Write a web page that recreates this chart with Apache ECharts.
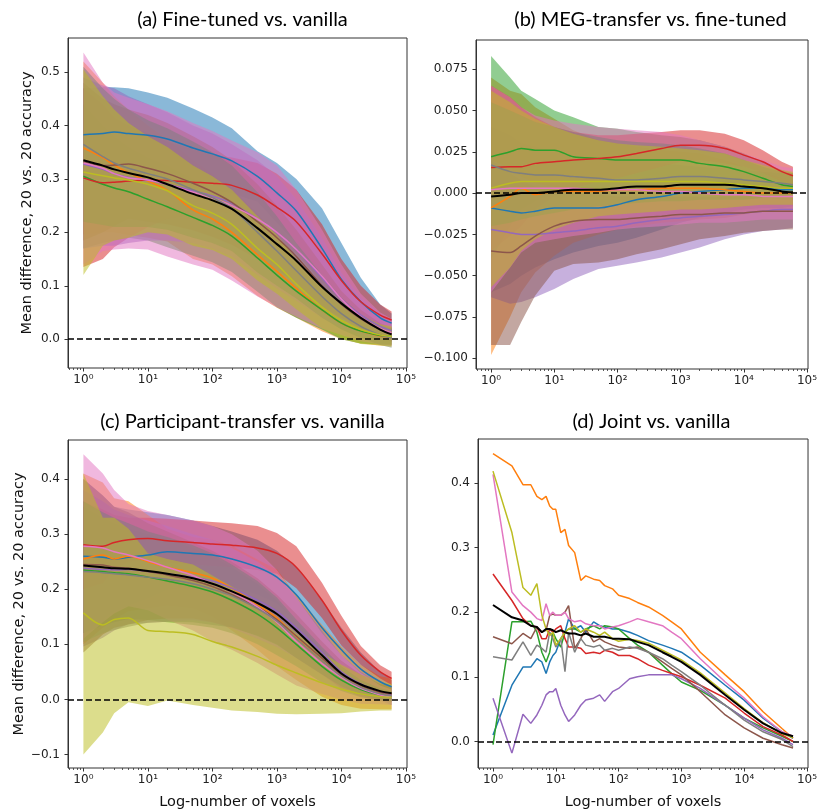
<!DOCTYPE html>
<html><head><meta charset="utf-8">
<script src="https://cdn.jsdelivr.net/npm/echarts@6/dist/echarts.min.js"></script>
<style>html,body{margin:0;padding:0;background:#fff}#c{width:820px;height:811px}</style>
</head><body><div id="c"></div>
<script>
// ---------- x positions (number of voxels) ----------
const XS = [1,2,3,5,10,20,50,100,200,500,1000,2000,5000,10000,20000,40000,60000];
const XS_D = [1,2,3,4,5,6,7,8,9,10,12,14,16,20,25,30,40,50,60,80,100,150,200,300,500,700,1000,2000,5000,10000,20000,40000,60000];

// ---------- axis tick values ----------
const X_TICKS = [1,10,100,1000,10000,100000];
const Y_TICKS_A = [0.0,0.1,0.2,0.3,0.4,0.5];
const Y_TICKS_B = [-0.1,-0.075,-0.05,-0.025,0.0,0.025,0.05,0.075];
const Y_TICKS_C = [-0.1,0.0,0.1,0.2,0.3,0.4];
const Y_TICKS_D = [0.0,0.1,0.2,0.3,0.4];

// ---------- (a) Fine-tuned vs. vanilla ----------
const A_BLUE    = [0.383,0.385,0.388,0.385,0.382,0.375,0.358,0.347,0.334,0.305,0.274,0.24,0.17,0.112,0.07,0.04,0.03];
const A_BLUE_HI = [0.47,0.472,0.472,0.47,0.462,0.452,0.432,0.415,0.395,0.352,0.33,0.3,0.245,0.18,0.115,0.065,0.048];
const A_BLUE_LO = [0.296,0.298,0.304,0.3,0.302,0.298,0.284,0.279,0.273,0.258,0.218,0.18,0.095,0.044,0.025,0.015,0.012];
const A_ORANGE    = [0.358,0.34,0.326,0.312,0.296,0.279,0.242,0.225,0.2,0.158,0.127,0.095,0.055,0.03,0.015,0.006,0.004];
const A_ORANGE_HI = [0.52,0.48,0.455,0.43,0.4,0.375,0.335,0.31,0.282,0.235,0.195,0.15,0.095,0.06,0.038,0.024,0.02];
const A_ORANGE_LO = [0.196,0.2,0.2,0.195,0.19,0.183,0.15,0.14,0.118,0.081,0.059,0.04,0.015,0.0,-0.008,-0.012,-0.012];
const A_GREEN    = [0.305,0.29,0.283,0.276,0.262,0.248,0.228,0.213,0.193,0.152,0.12,0.09,0.055,0.03,0.015,0.007,0.005];
const A_GREEN_HI = [0.44,0.4,0.38,0.36,0.34,0.325,0.3,0.282,0.26,0.215,0.18,0.14,0.092,0.06,0.038,0.024,0.02];
const A_GREEN_LO = [0.17,0.18,0.185,0.19,0.185,0.172,0.156,0.144,0.126,0.089,0.06,0.04,0.018,0.0,-0.008,-0.01,-0.01];
const A_RED    = [0.302,0.293,0.294,0.296,0.298,0.297,0.294,0.292,0.288,0.27,0.247,0.22,0.16,0.11,0.07,0.045,0.036];
const A_RED_HI = [0.47,0.44,0.415,0.4,0.385,0.37,0.355,0.345,0.34,0.33,0.31,0.28,0.215,0.15,0.1,0.065,0.052];
const A_RED_LO = [0.135,0.15,0.172,0.19,0.21,0.225,0.233,0.239,0.236,0.21,0.184,0.16,0.105,0.07,0.04,0.025,0.02];
const A_PURPLE    = [0.328,0.318,0.31,0.303,0.298,0.29,0.278,0.268,0.254,0.225,0.2,0.168,0.115,0.075,0.045,0.024,0.016];
const A_PURPLE_HI = [0.49,0.475,0.47,0.455,0.44,0.425,0.4,0.385,0.365,0.335,0.305,0.262,0.19,0.125,0.078,0.048,0.036];
const A_PURPLE_LO = [0.17,0.175,0.175,0.18,0.185,0.185,0.18,0.17,0.155,0.12,0.095,0.072,0.04,0.022,0.01,0.0,-0.002];
const A_BROWN    = [0.332,0.325,0.326,0.328,0.32,0.31,0.292,0.276,0.256,0.22,0.19,0.155,0.1,0.065,0.038,0.018,0.01];
const A_BROWN_HI = [0.48,0.45,0.44,0.43,0.42,0.405,0.38,0.36,0.335,0.29,0.25,0.205,0.14,0.09,0.055,0.03,0.022];
const A_BROWN_LO = [0.185,0.2,0.212,0.226,0.22,0.215,0.204,0.192,0.177,0.15,0.13,0.105,0.06,0.04,0.02,0.005,-0.005];
const A_PINK    = [0.33,0.32,0.31,0.302,0.298,0.29,0.275,0.264,0.25,0.225,0.2,0.168,0.118,0.075,0.042,0.02,0.012];
const A_PINK_HI = [0.537,0.48,0.462,0.452,0.44,0.427,0.405,0.39,0.372,0.35,0.325,0.28,0.205,0.14,0.085,0.05,0.038];
const A_PINK_LO = [0.14,0.165,0.168,0.17,0.168,0.155,0.14,0.13,0.11,0.08,0.06,0.042,0.02,0.008,-0.004,-0.01,-0.012];
const A_GRAY    = [0.365,0.342,0.33,0.32,0.31,0.3,0.28,0.265,0.245,0.2,0.165,0.128,0.08,0.048,0.024,0.008,0.002];
const A_GRAY_HI = [0.51,0.47,0.45,0.43,0.41,0.395,0.37,0.35,0.325,0.275,0.23,0.18,0.12,0.078,0.046,0.027,0.02];
const A_GRAY_LO = [0.22,0.214,0.21,0.21,0.21,0.205,0.19,0.18,0.165,0.125,0.1,0.076,0.04,0.018,0.002,-0.011,-0.016];
const A_OLIVE    = [0.313,0.306,0.302,0.298,0.29,0.278,0.25,0.236,0.215,0.17,0.14,0.103,0.06,0.035,0.018,0.008,0.005];
const A_OLIVE_HI = [0.505,0.455,0.43,0.405,0.38,0.36,0.325,0.305,0.28,0.23,0.195,0.15,0.1,0.068,0.045,0.028,0.024];
const A_OLIVE_LO = [0.12,0.175,0.185,0.19,0.2,0.196,0.175,0.167,0.15,0.11,0.085,0.056,0.02,0.002,-0.009,-0.012,-0.014];
const A_MEAN = [0.335,0.325,0.318,0.311,0.303,0.29,0.272,0.26,0.244,0.208,0.178,0.147,0.098,0.067,0.04,0.018,0.009];

// ---------- (b) MEG-transfer vs. fine-tuned ----------
const B_BLUE    = [-0.009,-0.011,-0.012,-0.011,-0.009,-0.009,-0.009,-0.007,-0.004,-0.002,0.0,0.001,0.002,0.003,0.003,0.002,0.002];
const B_BLUE_HI = [0.04,0.035,0.03,0.028,0.025,0.022,0.02,0.019,0.019,0.018,0.017,0.016,0.015,0.014,0.013,0.012,0.012];
const B_BLUE_LO = [-0.06,-0.055,-0.05,-0.045,-0.04,-0.036,-0.032,-0.03,-0.027,-0.022,-0.018,-0.015,-0.012,-0.01,-0.009,-0.009,-0.008];
const B_ORANGE    = [-0.009,-0.002,0.003,-0.001,0.001,0.001,0.001,0.002,0.002,0.003,0.003,0.003,0.002,0.001,0.0,0.0,0.0];
const B_ORANGE_HI = [0.07,0.062,0.06,0.052,0.045,0.038,0.032,0.03,0.028,0.026,0.025,0.024,0.02,0.016,0.012,0.009,0.008];
const B_ORANGE_LO = [-0.098,-0.075,-0.06,-0.048,-0.038,-0.03,-0.025,-0.022,-0.02,-0.018,-0.017,-0.016,-0.015,-0.013,-0.011,-0.01,-0.01];
const B_GREEN    = [0.022,0.025,0.027,0.026,0.026,0.022,0.021,0.02,0.02,0.02,0.02,0.018,0.016,0.013,0.009,0.005,0.004];
const B_GREEN_HI = [0.083,0.07,0.062,0.057,0.05,0.046,0.04,0.039,0.037,0.035,0.034,0.032,0.028,0.024,0.019,0.014,0.012];
const B_GREEN_LO = [-0.04,-0.02,-0.01,-0.005,0.0,0.0,0.002,0.002,0.003,0.004,0.004,0.003,0.002,0.0,-0.002,-0.004,-0.004];
const B_RED    = [0.0155,0.016,0.016,0.018,0.019,0.02,0.021,0.022,0.024,0.027,0.029,0.029,0.027,0.023,0.019,0.013,0.0105];
const B_RED_HI = [0.065,0.058,0.052,0.046,0.04,0.037,0.035,0.035,0.036,0.037,0.038,0.038,0.036,0.032,0.026,0.019,0.016];
const B_RED_LO = [-0.035,-0.026,-0.02,-0.01,-0.002,0.003,0.007,0.009,0.012,0.016,0.019,0.02,0.018,0.016,0.012,0.007,0.004];
const B_PURPLE    = [-0.022,-0.024,-0.025,-0.025,-0.024,-0.023,-0.021,-0.02,-0.018,-0.016,-0.015,-0.014,-0.013,-0.012,-0.011,-0.01,-0.01];
const B_PURPLE_HI = [0.02,0.015,0.01,0.006,0.004,0.002,0.0,-0.001,-0.001,-0.002,-0.002,-0.002,-0.002,-0.002,-0.002,-0.001,-0.001];
const B_PURPLE_LO = [-0.063,-0.067,-0.066,-0.063,-0.058,-0.052,-0.046,-0.044,-0.042,-0.039,-0.036,-0.033,-0.028,-0.025,-0.023,-0.022,-0.021];
const B_BROWN    = [-0.035,-0.036,-0.032,-0.026,-0.02,-0.017,-0.016,-0.016,-0.015,-0.014,-0.013,-0.013,-0.012,-0.012,-0.011,-0.011,-0.011];
const B_BROWN_HI = [0.02,0.012,0.008,0.004,0.002,0.0,-0.001,-0.002,-0.002,-0.002,-0.002,-0.002,-0.002,-0.002,-0.001,0.0,0.0];
const B_BROWN_LO = [-0.092,-0.092,-0.078,-0.062,-0.047,-0.043,-0.042,-0.04,-0.037,-0.034,-0.031,-0.028,-0.026,-0.024,-0.023,-0.022,-0.022];
const B_PINK    = [0.002,0.003,0.003,0.003,0.003,0.003,0.002,0.002,0.002,0.001,0.001,0.0,-0.001,-0.001,-0.002,-0.002,-0.002];
const B_PINK_HI = [0.065,0.058,0.052,0.047,0.044,0.042,0.04,0.039,0.038,0.037,0.035,0.032,0.028,0.024,0.02,0.016,0.015];
const B_PINK_LO = [-0.06,-0.045,-0.036,-0.03,-0.028,-0.026,-0.024,-0.022,-0.021,-0.02,-0.019,-0.018,-0.018,-0.017,-0.016,-0.016,-0.016];
const B_GRAY    = [0.017,0.013,0.012,0.011,0.011,0.01,0.009,0.008,0.008,0.009,0.01,0.01,0.009,0.008,0.007,0.006,0.005];
const B_GRAY_HI = [0.055,0.05,0.047,0.043,0.04,0.037,0.034,0.032,0.031,0.03,0.029,0.027,0.024,0.02,0.016,0.013,0.012];
const B_GRAY_LO = [-0.02,-0.018,-0.016,-0.014,-0.012,-0.01,-0.008,-0.007,-0.006,-0.005,-0.005,-0.004,-0.004,-0.004,-0.003,-0.002,-0.001];
const B_OLIVE    = [0.003,0.006,0.007,0.007,0.007,0.007,0.007,0.007,0.007,0.007,0.007,0.007,0.006,0.005,0.004,0.003,0.003];
const B_OLIVE_HI = [0.062,0.055,0.05,0.045,0.04,0.036,0.032,0.03,0.029,0.028,0.027,0.026,0.024,0.02,0.017,0.014,0.013];
const B_OLIVE_LO = [-0.057,-0.045,-0.035,-0.028,-0.022,-0.018,-0.014,-0.013,-0.012,-0.011,-0.01,-0.01,-0.009,-0.008,-0.007,-0.007,-0.007];
const B_MEAN = [-0.002,-0.001,0.0,0.0,0.001,0.002,0.002,0.003,0.004,0.004,0.005,0.005,0.005,0.004,0.003,0.001,0.0005];

// ---------- (c) Participant-transfer vs. vanilla ----------
const C_BLUE    = [0.26,0.258,0.255,0.258,0.262,0.268,0.265,0.262,0.255,0.24,0.222,0.19,0.13,0.09,0.055,0.032,0.023];
const C_BLUE_HI = [0.4,0.37,0.35,0.345,0.34,0.335,0.325,0.315,0.305,0.29,0.27,0.24,0.18,0.13,0.085,0.05,0.035];
const C_BLUE_LO = [0.12,0.146,0.16,0.171,0.184,0.2,0.205,0.209,0.205,0.19,0.174,0.14,0.08,0.05,0.025,0.014,0.011];
const C_ORANGE    = [0.255,0.262,0.255,0.26,0.25,0.24,0.23,0.22,0.202,0.172,0.148,0.112,0.07,0.043,0.023,0.012,0.01];
const C_ORANGE_HI = [0.41,0.394,0.365,0.36,0.335,0.31,0.295,0.29,0.279,0.254,0.236,0.189,0.135,0.096,0.063,0.042,0.038];
const C_ORANGE_LO = [0.1,0.13,0.145,0.16,0.165,0.17,0.165,0.15,0.125,0.09,0.06,0.035,0.005,-0.01,-0.017,-0.018,-0.018];
const C_GREEN    = [0.235,0.232,0.23,0.228,0.222,0.215,0.205,0.195,0.18,0.155,0.13,0.1,0.06,0.035,0.018,0.008,0.005];
const C_GREEN_HI = [0.35,0.33,0.32,0.31,0.3,0.29,0.275,0.26,0.24,0.21,0.18,0.14,0.09,0.055,0.032,0.018,0.014];
const C_GREEN_LO = [0.12,0.134,0.14,0.146,0.144,0.14,0.135,0.13,0.12,0.1,0.08,0.06,0.03,0.015,0.004,-0.002,-0.004];
const C_RED    = [0.281,0.278,0.285,0.29,0.292,0.288,0.285,0.282,0.28,0.275,0.265,0.24,0.18,0.125,0.08,0.05,0.038];
const C_RED_HI = [0.36,0.345,0.335,0.33,0.33,0.328,0.325,0.322,0.32,0.315,0.302,0.278,0.212,0.152,0.097,0.062,0.05];
const C_RED_LO = [0.2,0.211,0.235,0.25,0.254,0.248,0.245,0.242,0.24,0.235,0.228,0.202,0.148,0.098,0.063,0.038,0.026];
const C_PURPLE    = [0.238,0.236,0.235,0.236,0.232,0.228,0.222,0.215,0.202,0.18,0.16,0.13,0.085,0.05,0.028,0.014,0.008];
const C_PURPLE_HI = [0.38,0.36,0.345,0.335,0.325,0.315,0.3,0.29,0.275,0.25,0.225,0.185,0.125,0.08,0.05,0.03,0.025];
const C_PURPLE_LO = [0.096,0.112,0.125,0.137,0.139,0.141,0.144,0.14,0.129,0.11,0.095,0.075,0.045,0.02,0.006,-0.002,-0.01];
const C_BROWN    = [0.245,0.244,0.24,0.238,0.232,0.226,0.216,0.205,0.19,0.168,0.145,0.115,0.075,0.045,0.025,0.013,0.01];
const C_BROWN_HI = [0.4,0.37,0.35,0.34,0.32,0.305,0.285,0.27,0.25,0.22,0.19,0.155,0.105,0.07,0.045,0.028,0.024];
const C_BROWN_LO = [0.085,0.118,0.13,0.136,0.144,0.147,0.147,0.14,0.13,0.116,0.1,0.075,0.045,0.02,0.005,-0.002,-0.004];
const C_PINK    = [0.278,0.275,0.268,0.262,0.252,0.24,0.225,0.21,0.195,0.168,0.14,0.105,0.065,0.04,0.02,0.008,0.004];
const C_PINK_HI = [0.445,0.41,0.38,0.355,0.342,0.335,0.325,0.315,0.3,0.27,0.235,0.185,0.12,0.08,0.048,0.025,0.018];
const C_PINK_LO = [0.11,0.14,0.156,0.169,0.162,0.145,0.125,0.105,0.09,0.066,0.045,0.025,0.01,0.0,-0.008,-0.009,-0.01];
const C_GRAY    = [0.232,0.23,0.228,0.226,0.222,0.218,0.21,0.2,0.188,0.165,0.142,0.11,0.07,0.042,0.022,0.01,0.006];
const C_GRAY_HI = [0.36,0.34,0.33,0.32,0.305,0.295,0.28,0.265,0.245,0.215,0.185,0.145,0.095,0.06,0.035,0.02,0.015];
const C_GRAY_LO = [0.104,0.12,0.126,0.132,0.139,0.141,0.14,0.135,0.131,0.115,0.099,0.075,0.045,0.024,0.009,0.0,-0.003];
const C_OLIVE    = [0.157,0.135,0.145,0.148,0.125,0.123,0.118,0.105,0.095,0.078,0.062,0.048,0.03,0.019,0.01,0.005,0.004];
const C_OLIVE_HI = [0.41,0.33,0.33,0.31,0.265,0.255,0.245,0.225,0.205,0.175,0.15,0.12,0.085,0.063,0.045,0.032,0.028];
const C_OLIVE_LO = [-0.1,-0.06,-0.025,-0.005,-0.012,-0.002,-0.01,-0.015,-0.02,-0.023,-0.026,-0.027,-0.026,-0.025,-0.022,-0.02,-0.02];
const C_MEAN = [0.243,0.24,0.238,0.237,0.233,0.228,0.22,0.21,0.196,0.175,0.155,0.125,0.08,0.047,0.027,0.015,0.011];

// ---------- (d) Joint vs. vanilla ----------
const D_BLUE   = [0.01,0.087,0.115,0.115,0.128,0.123,0.105,0.123,0.133,0.138,0.159,0.169,0.19,0.174,0.179,0.169,0.185,0.179,0.177,0.174,0.174,0.169,0.164,0.156,0.149,0.144,0.138,0.118,0.087,0.064,0.036,0.015,0.005];
const D_ORANGE = [0.445,0.426,0.397,0.397,0.379,0.374,0.379,0.364,0.359,0.359,0.323,0.328,0.303,0.292,0.249,0.256,0.251,0.249,0.241,0.236,0.226,0.221,0.215,0.208,0.195,0.185,0.174,0.138,0.103,0.077,0.046,0.02,0.005];
const D_GREEN  = [-0.005,0.185,0.185,0.186,0.169,0.138,0.123,0.138,0.169,0.159,0.146,0.169,0.174,0.174,0.169,0.174,0.179,0.174,0.179,0.177,0.174,0.159,0.149,0.138,0.118,0.105,0.092,0.079,0.056,0.036,0.021,0.008,0.0];
const D_RED    = [0.259,0.218,0.19,0.179,0.177,0.159,0.159,0.174,0.169,0.174,0.179,0.159,0.146,0.146,0.144,0.136,0.138,0.136,0.141,0.138,0.133,0.133,0.128,0.118,0.11,0.105,0.1,0.087,0.067,0.044,0.023,0.01,0.0];
const D_PURPLE = [0.067,-0.018,0.042,0.028,0.041,0.056,0.072,0.077,0.077,0.082,0.056,0.041,0.031,0.041,0.056,0.064,0.067,0.072,0.062,0.077,0.082,0.097,0.1,0.103,0.103,0.103,0.097,0.082,0.056,0.036,0.018,0.005,-0.005];
const D_BROWN  = [0.162,0.151,0.167,0.159,0.177,0.169,0.172,0.195,0.197,0.195,0.195,0.2,0.21,0.144,0.159,0.174,0.154,0.159,0.154,0.149,0.146,0.144,0.146,0.138,0.123,0.113,0.103,0.077,0.041,0.021,0.005,-0.005,-0.01];
const D_PINK   = [0.413,0.231,0.21,0.2,0.19,0.187,0.213,0.195,0.2,0.195,0.195,0.2,0.19,0.185,0.187,0.182,0.179,0.179,0.174,0.177,0.179,0.185,0.19,0.185,0.179,0.169,0.159,0.128,0.092,0.067,0.038,0.015,0.008];
const D_GRAY   = [0.131,0.126,0.154,0.133,0.149,0.144,0.138,0.169,0.159,0.146,0.159,0.108,0.169,0.138,0.159,0.149,0.146,0.149,0.141,0.144,0.141,0.146,0.144,0.138,0.128,0.118,0.108,0.087,0.056,0.033,0.015,0.003,-0.008];
const D_OLIVE  = [0.418,0.323,0.238,0.226,0.244,0.195,0.174,0.164,0.169,0.149,0.159,0.169,0.174,0.179,0.169,0.174,0.169,0.164,0.169,0.159,0.155,0.158,0.156,0.152,0.141,0.134,0.126,0.106,0.075,0.051,0.029,0.012,0.006];
const D_MEAN   = [0.211,0.192,0.187,0.179,0.177,0.169,0.174,0.174,0.172,0.169,0.172,0.169,0.167,0.167,0.164,0.167,0.162,0.162,0.162,0.159,0.159,0.158,0.154,0.149,0.138,0.131,0.123,0.103,0.072,0.049,0.028,0.013,0.008];

// ---------- styling ----------
const COL = {blue:'#1f77b4',orange:'#ff7f0e',green:'#2ca02c',red:'#d62728',purple:'#9467bd',brown:'#8c564b',pink:'#e377c2',gray:'#7f7f7f',olive:'#bcbd22'};
const TITLES = ['(a) Fine-tuned vs. vanilla','(b) MEG-transfer vs. fine-tuned','(c) Participant-transfer vs. vanilla','(d) Joint vs. vanilla'];
const Y_NAME = 'Mean difference, 20 vs. 20 accuracy';
const X_NAME = 'Log-number of voxels';

const GRIDS = [
  {left:68, top:38, width:339, height:330},
  {left:476, top:40, width:339, height:329},
  {left:68, top:440, width:339, height:329},
  {left:478, top:439, width:337, height:330}
];
const Y_RANGE = [[-0.054,0.564],[-0.1065,0.0927],[-0.1246,0.471],[-0.041,0.4677]];
const Y_TICKS = [Y_TICKS_A,Y_TICKS_B,Y_TICKS_C,Y_TICKS_D];
const Y_DEC = [1,3,1,1];
const LMIN = -0.2389, LMAX = 5.0169;
const SUP = {0:'\u2070',1:'\u00b9',2:'\u00b2',3:'\u00b3',4:'\u2074',5:'\u2075'};

const PANEL_BANDS = [
  [['blue',A_BLUE_LO,A_BLUE_HI],['orange',A_ORANGE_LO,A_ORANGE_HI],['green',A_GREEN_LO,A_GREEN_HI],['red',A_RED_LO,A_RED_HI],['purple',A_PURPLE_LO,A_PURPLE_HI],['brown',A_BROWN_LO,A_BROWN_HI],['pink',A_PINK_LO,A_PINK_HI],['gray',A_GRAY_LO,A_GRAY_HI],['olive',A_OLIVE_LO,A_OLIVE_HI]],
  [['blue',B_BLUE_LO,B_BLUE_HI],['orange',B_ORANGE_LO,B_ORANGE_HI],['green',B_GREEN_LO,B_GREEN_HI],['red',B_RED_LO,B_RED_HI],['purple',B_PURPLE_LO,B_PURPLE_HI],['brown',B_BROWN_LO,B_BROWN_HI],['pink',B_PINK_LO,B_PINK_HI],['gray',B_GRAY_LO,B_GRAY_HI],['olive',B_OLIVE_LO,B_OLIVE_HI]],
  [['blue',C_BLUE_LO,C_BLUE_HI],['orange',C_ORANGE_LO,C_ORANGE_HI],['green',C_GREEN_LO,C_GREEN_HI],['red',C_RED_LO,C_RED_HI],['purple',C_PURPLE_LO,C_PURPLE_HI],['brown',C_BROWN_LO,C_BROWN_HI],['pink',C_PINK_LO,C_PINK_HI],['gray',C_GRAY_LO,C_GRAY_HI],['olive',C_OLIVE_LO,C_OLIVE_HI]],
  []
];
const PANEL_LINES = [
  [['blue',A_BLUE],['orange',A_ORANGE],['green',A_GREEN],['red',A_RED],['purple',A_PURPLE],['brown',A_BROWN],['pink',A_PINK],['gray',A_GRAY],['olive',A_OLIVE]],
  [['blue',B_BLUE],['orange',B_ORANGE],['green',B_GREEN],['red',B_RED],['purple',B_PURPLE],['brown',B_BROWN],['pink',B_PINK],['gray',B_GRAY],['olive',B_OLIVE]],
  [['blue',C_BLUE],['orange',C_ORANGE],['green',C_GREEN],['red',C_RED],['purple',C_PURPLE],['brown',C_BROWN],['pink',C_PINK],['gray',C_GRAY],['olive',C_OLIVE]],
  [['blue',D_BLUE],['orange',D_ORANGE],['green',D_GREEN],['red',D_RED],['purple',D_PURPLE],['brown',D_BROWN],['pink',D_PINK],['gray',D_GRAY],['olive',D_OLIVE]]
];
const PANEL_MEAN = [A_MEAN,B_MEAN,C_MEAN,D_MEAN];
const PANEL_XS = [XS,XS,XS,XS_D];
const PANEL_SMOOTH = [0.3,0.3,0.3,false];

function rgba(hex,a){const n=parseInt(hex.slice(1),16);return 'rgba('+(n>>16&255)+','+(n>>8&255)+','+(n&255)+','+a+')';}

// minor tick positions (log10 of 2..9 x 10^e), axis decoration only
const MINOR = [];
for (let e=-1;e<=4;e++) for (let k=2;k<=9;k++){const v=Math.log10(k*Math.pow(10,e)); if(v>LMIN&&v<LMAX) MINOR.push(v);}

const FONT = 'DejaVu Sans';
const xAxes = [], yAxes = [], series = [], titles = [];
GRIDS.forEach((g,i)=>{
  titles.push({text:TITLES[i], left:g.left+g.width/2, top:(i<2?5:407), textAlign:'center',
    textStyle:{fontFamily:'Lato', fontSize:20, fontWeight:'normal', color:'#000'}});
  // visible decade ticks/labels (first x axis of the grid)
  xAxes.push({type:'value', gridIndex:i, position:'bottom', min:LMIN, max:LMAX,
    axisLine:{show:false, onZero:false}, splitLine:{show:false},
    axisTick:{show:true, customValues:X_TICKS.map(v=>Math.log10(v)), length:3.5, lineStyle:{color:'#333', width:1}},
    axisLabel:{customValues:X_TICKS.map(v=>Math.log10(v)), formatter:v=>'10'+SUP[Math.round(v)], fontFamily:FONT, fontSize:12, color:'#222', margin:6},
    name:(i>=2?X_NAME:''), nameLocation:'middle', nameGap:27,
    nameTextStyle:{fontFamily:FONT, fontSize:14.5, color:'#111'}});
  // minor ticks
  xAxes.push({type:'value', gridIndex:i, position:'bottom', min:LMIN, max:LMAX,
    axisLine:{show:false, onZero:false}, splitLine:{show:false}, axisLabel:{show:false},
    axisTick:{show:true, customValues:MINOR, length:2, lineStyle:{color:'#333', width:0.8}}});
  // data axis (log scale, hidden)
  xAxes.push({type:'log', logBase:10, gridIndex:i, position:'bottom', min:Math.pow(10,LMIN), max:Math.pow(10,LMAX), show:false,
    axisLine:{onZero:false}});
  yAxes.push({type:'value', gridIndex:i, position:'left', min:Y_RANGE[i][0], max:Y_RANGE[i][1],
    axisLine:{show:true, onZero:false, lineStyle:{color:'#333', width:1}}, splitLine:{show:false},
    axisTick:{show:true, customValues:Y_TICKS[i], length:3.5, lineStyle:{color:'#333', width:1}},
    axisLabel:{customValues:Y_TICKS[i], formatter:v=>(v<-1e-9?'\u2212':'')+Math.abs(v).toFixed(Y_DEC[i]), fontFamily:FONT, fontSize:12, color:'#222', margin:8},
    name:(i%2===0?Y_NAME:''), nameLocation:'middle', nameGap:33,
    nameTextStyle:{fontFamily:FONT, fontSize:14.5, color:'#111'}});

  const xs = PANEL_XS[i];
  const xi = i*3+2;
  PANEL_BANDS[i].forEach(([c,lo,hi])=>{
    series.push({type:'custom', coordinateSystem:'cartesian2d', xAxisIndex:xi, yAxisIndex:i, silent:true, z:1,
      data: xs.map((x,k)=>[x, lo[k], hi[k]]),
      encode:{x:0, y:[1,2]},
      renderItem:(params, api)=>{
        if (params.dataIndexInside !== 0) return null;
        const n = params.dataInsideLength, pts = [];
        for (let k=0;k<n;k++) pts.push(api.coord([api.value(0,k), api.value(2,k)]));
        for (let k=n-1;k>=0;k--) pts.push(api.coord([api.value(0,k), api.value(1,k)]));
        return {type:'polygon', shape:{points:pts}, style:{fill:rgba(COL[c],0.52), stroke:null}};
      }});
  });
  PANEL_LINES[i].forEach(([c,v])=>{
    series.push({type:'line', xAxisIndex:xi, yAxisIndex:i, data:xs.map((x,k)=>[x,v[k]]),
      symbol:'none', silent:true, z:3, smooth:PANEL_SMOOTH[i], lineStyle:{color:COL[c], width:1.5}});
  });
  series.push({type:'line', xAxisIndex:xi, yAxisIndex:i, data:xs.map((x,k)=>[x,PANEL_MEAN[i][k]]),
    symbol:'none', silent:true, z:4, smooth:PANEL_SMOOTH[i], lineStyle:{color:'#000', width:2},
    markLine:{silent:true, symbol:'none', label:{show:false}, animation:false,
      lineStyle:{color:'#000', width:1.6, type:[6,3]}, data:[{yAxis:0}]}});
});

const chart = echarts.init(document.getElementById('c'), null, {renderer:'canvas'});
chart.setOption({
  animation:false,
  backgroundColor:'#fff',
  title:titles,
  grid:GRIDS.map(g=>Object.assign({show:true, borderColor:'#333', borderWidth:1, backgroundColor:'transparent'}, g)),
  xAxis:xAxes, yAxis:yAxes, series:series
});
</script></body></html>
